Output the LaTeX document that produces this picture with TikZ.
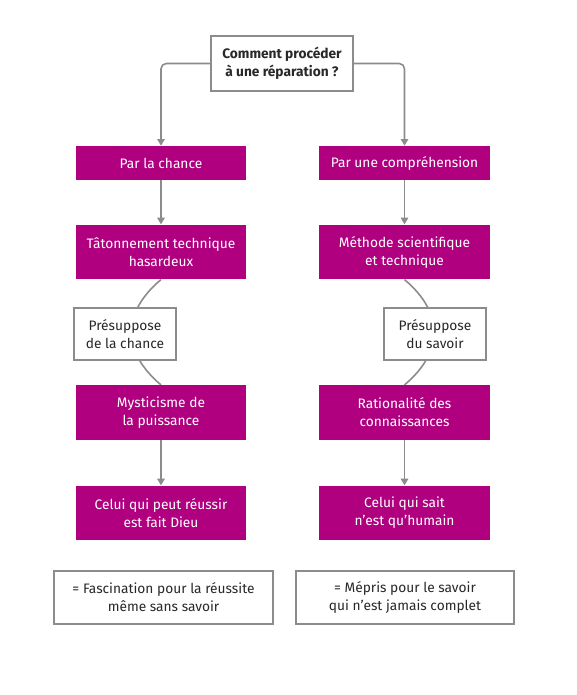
\documentclass[tikz,border=0pt]{standalone}
\usepackage{fontspec}
\setmainfont{Fira Sans}
\usetikzlibrary{arrows.meta}
\pgfdeclarelayer{background}
\pgfsetlayers{background,main}
\definecolor{fuchsia}{RGB}{176,0,128}
\definecolor{greyline}{RGB}{140,140,140}
\definecolor{darktext}{RGB}{40,40,40}

\tikzset{
	pinkbox/.style={fill=fuchsia, text=white, minimum width=128pt, minimum height=41pt,
		align=center, inner sep=0pt, font=\fontsize{10.3}{13.5}\selectfont},
	pinksmall/.style={pinkbox, minimum height=25.5pt},
	framebox/.style={draw=greyline, line width=1.5pt, fill=white, text=darktext,
		align=center, inner sep=0pt, font=\fontsize{10.3}{13.5}\selectfont},
	conn/.style={draw=greyline, line width=1.2pt},
	arr/.style={conn, -{Triangle[length=5pt,width=5.5pt]}},
}

\begin{document}
\begin{tikzpicture}[x=0.75pt,y=-0.75pt]
	\useasboundingbox (0,0) rectangle (576,695);
	%Nodes
	\node[framebox, minimum width=106.5pt, minimum height=41pt, font=\fontsize{10.3}{13.5}\selectfont\bfseries]
		(question) at (282,63.5) {Comment procéder\\à une réparation ?};

	\node[pinksmall] (chance) at (161,163) {Par la chance};
	\node[pinksmall] (compr)  at (404.5,163) {Par une compréhension};

	\node[pinkbox] (taton)   at (161,252) {Tâtonnement technique\\hasardeux};
	\node[pinkbox] (methode) at (404.5,252) {Méthode scientifique\\et technique};

	\node[framebox, minimum width=76.5pt, minimum height=39pt] (preschance) at (125,334) {Présuppose\\de la chance};
	\node[framebox, minimum width=76.5pt, minimum height=39pt] (pressavoir) at (435,334) {Présuppose\\du savoir};

	\node[pinkbox] (mystic) at (161,412.5) {Mysticisme de\\la puissance};
	\node[pinkbox] (ration) at (404.5,412.5) {Rationalité des\\connaissances};

	\node[pinkbox] (dieu)   at (161,513) {Celui qui peut réussir\\est fait Dieu};
	\node[pinkbox] (humain) at (404.5,513) {Celui qui sait\\n’est qu’humain};

	\node[framebox, minimum width=164pt, minimum height=40pt] (fascin) at (163.5,597.5) {= Fascination pour la réussite\\même sans savoir};
	\node[framebox, minimum width=164pt, minimum height=40pt] (mepris) at (405,597.5) {= Mépris pour le savoir\\qui n’est jamais complet};

	%Lines
	\draw[arr, rounded corners=4pt] (question.west) -| (chance.north);
	\draw[arr, rounded corners=4pt] (question.east) -| (compr.north);
	\draw[arr] (chance) -- (taton);
	\draw[arr] (compr) -- (methode);
	\draw[arr] (mystic) -- (dieu);
	\draw[arr] (ration) -- (humain);

	\begin{pgfonlayer}{background}
		\draw[conn] (taton.south) to[out=-140,in=140,looseness=1.25] (mystic.north);
		\draw[conn] (methode.south) to[out=-40,in=40,looseness=1.25] (ration.north);
	\end{pgfonlayer}
\end{tikzpicture}
\end{document}
